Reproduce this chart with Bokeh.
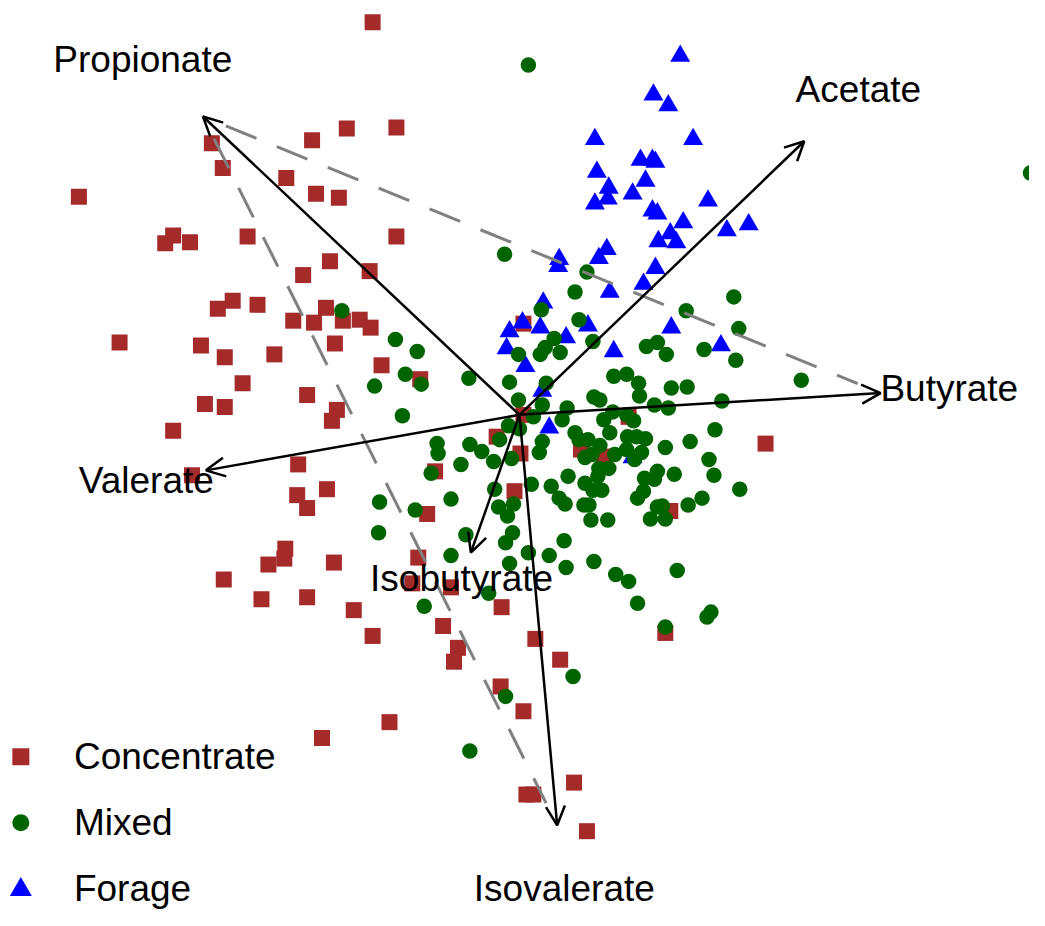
import math
from bokeh.plotting import figure
from bokeh.models import ColumnDataSource, Range1d, Arrow, OpenHead
from bokeh.core.properties import value
from bokeh.embed import file_html
from bokeh.resources import INLINE

FONT = "Liberation Sans"

# ---- sample scores (picture units, y downwards) ----
concentrate = [(375,22),(399,128),(349,129),(314,141),(213,144),(224,169),(288,179),(79,198),
    (318,195),(341,199),(174,237),(166,245),(191,244),(249,238),(399,238),(372,273),(332,263),
    (305,277),(219,311),(234,303),(259,307),(295,323),(316,325),(328,310),(345,323),(362,322),
    (373,330),(120,345),(202,348),(226,360),(276,357),(337,346),(244,386),(309,398),(206,407),
    (226,410),(339,413),(334,424),(174,434),(193,479),(300,468),(299,499),(329,493),(309,512),
    (287,553),(286,563),(270,569),(336,567),(225,584),(263,604),(309,602),(384,368),(423,382),
    (527,326),(527,418),(500,440),(438,475),(524,457),(518,495),(430,518),(421,562),(415,588),
    (454,592),(505,612),(356,615),(585,453),(608,460),(675,515),(771,447),(324,744),(375,641),
    (446,631),(461,653),(457,667),(539,644),(564,665),(504,692),(527,717),(392,728),(530,801),
    (537,801),(578,789),(591,838),(670,638),(633,420)]

mixed = [(532,65),(1038,174),(508,256),(591,274),(579,294),(545,312),(691,313),(739,299),
    (344,313),(398,342),(420,354),(408,377),(377,389),(424,387),(472,381),(405,419),(558,341),
    (549,350),(544,357),(522,357),(513,385),(550,386),(522,403),(546,408),(571,411),(566,423),
    (537,420),(512,429),(523,432),(503,443),(440,447),(473,448),(546,445),(583,322),(744,331),
    (597,344),(564,355),(651,349),(662,345),(671,357),(709,352),(741,363),(618,379),(631,377),
    (643,386),(644,399),(676,391),(692,390),(598,400),(604,403),(659,408),(673,411),(727,404),
    (608,423),(617,415),(631,418),(638,424),(614,436),(579,436),(583,443),(592,443),(632,440),
    (641,440),(650,442),(604,449),(670,451),(695,445),(720,433),(589,461),(596,458),(619,458),
    (631,453),(646,456),(639,463),(714,463),(572,480),(603,472),(613,472),(602,480),(589,487),
    (606,494),(597,494),(719,479),(679,478),(662,475),(649,482),(659,483),(648,495),(642,502),
    (745,493),(707,502),(693,509),(563,502),(569,508),(588,509),(593,509),(662,511),(667,510),
    (655,523),(670,523),(595,524),(612,524),(568,545),(598,566),(570,572),(620,579),(633,586),
    (682,575),(642,608),(716,617),(712,622),(427,611),(492,598),(670,632),(577,682),(509,702),
    (473,757),(441,457),(485,455),(497,465),(515,462),(464,468),(434,477),(543,456),(498,493),
    (535,488),(555,490),(454,503),(382,506),(418,514),(502,511),(517,508),(511,520),(381,537),
    (516,537),(509,547),(469,539),(532,557),(553,560),(454,560),(513,568),(807,383)]

forage = [(685,56),(658,95),(673,106),(599,140),(698,140),(645,161),(657,161),(660,163),
    (601,173),(650,182),(613,189),(637,195),(612,200),(599,205),(657,212),(662,215),(688,224),
    (675,235),(663,243),(681,244),(611,251),(603,260),(563,261),(562,268),(660,270),(648,286),
    (614,294),(547,305),(713,202),(732,232),(754,226),(526,325),(513,334),(544,330),(510,351),
    (529,369),(546,394),(553,431),(592,328),(570,340),(676,330),(618,354),(726,348),(637,461)]

conc_x, conc_y = [list(v) for v in zip(*concentrate)]
mix_x, mix_y = [list(v) for v in zip(*mixed)]
for_x, for_y = [list(v) for v in zip(*forage)]

# ---- variable loadings (arrow tips) ----
variables = ["Acetate", "Propionate", "Butyrate", "Valerate", "Isobutyrate", "Isovalerate"]
load_x = [810, 204, 887, 207, 474, 561]
load_y = [142, 117, 396, 474, 557, 832]
origin_x, origin_y = 523, 418
label_scale = 1.19
label_y_max = 896

# dashed connections between variable tips
links = [("Propionate", "Butyrate"), ("Propionate", "Isovalerate")]
link_shrink = 25

groups = ["Concentrate", "Mixed", "Forage"]
colors = ["#A52A2A", "#006400", "#0000FF"]
markers = ["square", "circle", "triangle"]

p = figure(width=1029, height=910, x_range=Range1d(0, 1037), y_range=Range1d(918, 0),
           output_backend="svg", toolbar_location=None, x_axis_type=None, y_axis_type=None,
           min_border=0)
p.outline_line_color = None
p.background_fill_color = "white"
p.border_fill_color = "white"

# points
p.scatter(conc_x, conc_y, marker="square", size=16, fill_color=colors[0], line_color=None)
p.scatter(for_x, for_y, marker="triangle", size=20, fill_color=colors[2], line_color=None)
p.scatter(mix_x, mix_y, marker="circle", size=15.5, fill_color=colors[1], line_color=None)

# dashed links
idx = {v: i for i, v in enumerate(variables)}
sx0, sy0, sx1, sy1 = [], [], [], []
for a, b in links:
    ax, ay = load_x[idx[a]], load_y[idx[a]]
    bx, by = load_x[idx[b]], load_y[idx[b]]
    d = math.hypot(bx - ax, by - ay)
    ux, uy = (bx - ax) / d, (by - ay) / d
    sx0.append(ax + ux * link_shrink); sy0.append(ay + uy * link_shrink)
    sx1.append(bx - ux * link_shrink); sy1.append(by - uy * link_shrink)
p.segment(sx0, sy0, sx1, sy1, line_color="#808080", line_width=3, line_dash="33 22")

# arrows
arrow_src = ColumnDataSource(dict(x0=[origin_x] * len(variables), y0=[origin_y] * len(variables),
                                  x1=load_x, y1=load_y))
p.add_layout(Arrow(end=OpenHead(size=19, line_width=2.5, line_color="black"), source=arrow_src,
                   x_start="x0", y_start="y0", x_end="x1", y_end="y1",
                   line_width=2.5, line_color="black"))

# variable labels
lab_x = [origin_x + label_scale * (x - origin_x) for x in load_x]
lab_y = [min(origin_y + label_scale * (y - origin_y), label_y_max) for y in load_y]
tr = p.text(lab_x, lab_y, text=variables, text_font=value(FONT), text_font_size="37px",
            text_align="center", text_baseline="middle", text_color="black")
tr.level = "overlay"

# legend (manual)
leg_x0, leg_y0, leg_step, leg_text_dx = 20.5, 763, 66.5, 53.5
leg_y = [leg_y0 + i * leg_step for i in range(len(groups))]
leg_sizes = [17, 17, 22]
leg_dy = [0, 0, 1]
for i in range(len(groups)):
    p.scatter([leg_x0], [leg_y[i] + leg_dy[i]], marker=markers[i], size=leg_sizes[i],
              fill_color=colors[i], line_color=None)
p.text([leg_x0 + leg_text_dx] * len(groups), leg_y, text=groups, text_font=value(FONT),
       text_font_size="37px", text_align="left", text_baseline="middle", text_color="black")

open("out.html", "w").write(file_html(p, INLINE))
